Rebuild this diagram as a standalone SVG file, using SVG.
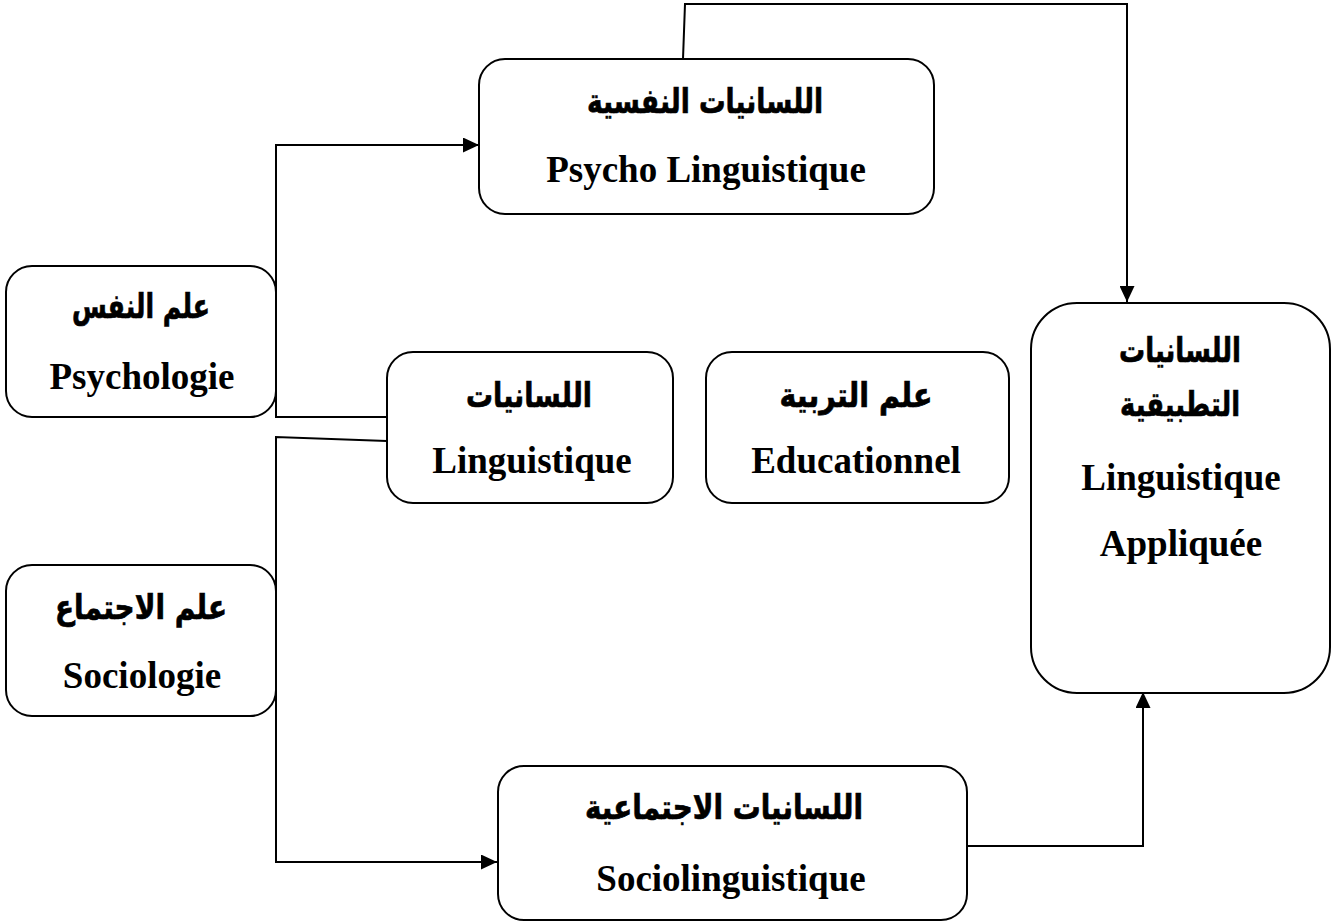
<svg xmlns="http://www.w3.org/2000/svg" width="1339" height="924" viewBox="0 0 1339 924">
<style>
.box{fill:#fff;stroke:#000;stroke-width:2}
.en{font-family:"Liberation Serif","Times New Roman",serif;font-weight:bold;font-size:37px;fill:#000;text-anchor:middle}
.ar{font-family:"DejaVu Sans",sans-serif;font-weight:bold;font-size:34px;fill:#000;stroke:#000;stroke-width:0.7;text-anchor:middle}
.con{fill:none;stroke:#000;stroke-width:2}
</style>
<defs>
<marker id="arr" markerUnits="userSpaceOnUse" markerWidth="17" markerHeight="15" refX="16" refY="7.5" orient="auto">
<path d="M0,0 L16,7.5 L0,15 z" fill="#000"/>
</marker>
</defs>
<rect width="1339" height="924" fill="#fff"/>
<g id="connectors">
<path class="con" d="M387,417 L276,417 L276,145 L479,145" marker-end="url(#arr)"/>
<path class="con" d="M387,441 L276,437 L276,862 L497,862" marker-end="url(#arr)"/>
<path class="con" d="M683,59 L685,4 L1127,4 L1127,302" marker-end="url(#arr)"/>
<path class="con" d="M967,846 L1143,846 L1143,692" marker-end="url(#arr)"/>
</g>
<g id="psycholinguistique">
<rect class="box" x="479" y="59" width="455" height="155" rx="26"/>
<text class="ar" x="705" y="113" textLength="236" lengthAdjust="spacingAndGlyphs">اللسانيات النفسية</text>
<text class="en" x="706" y="182">Psycho Linguistique</text>
</g>
<g id="psychologie">
<rect class="box" x="6" y="266" width="270" height="151" rx="26"/>
<text class="ar" x="141" y="318" textLength="138" lengthAdjust="spacingAndGlyphs">علم النفس</text>
<text class="en" x="142" y="389">Psychologie</text>
</g>
<g id="linguistique">
<rect class="box" x="387" y="352" width="286" height="151" rx="26"/>
<text class="ar" x="529" y="407" textLength="126" lengthAdjust="spacingAndGlyphs">اللسانيات</text>
<text class="en" x="532" y="473">Linguistique</text>
</g>
<g id="educationnel">
<rect class="box" x="706" y="352" width="303" height="151" rx="26"/>
<text class="ar" x="856" y="407" textLength="153" lengthAdjust="spacingAndGlyphs">علم التربية</text>
<text class="en" x="856" y="473">Educationnel</text>
</g>
<g id="sociologie">
<rect class="box" x="6" y="565" width="270" height="151" rx="26"/>
<text class="ar" x="141" y="619" textLength="172" lengthAdjust="spacingAndGlyphs">علم الاجتماع</text>
<text class="en" x="142" y="688">Sociologie</text>
</g>
<g id="sociolinguistique">
<rect class="box" x="498" y="766" width="469" height="154" rx="26"/>
<text class="ar" x="724" y="819" textLength="278" lengthAdjust="spacingAndGlyphs">اللسانيات الاجتماعية</text>
<text class="en" x="731" y="891">Sociolinguistique</text>
</g>
<g id="linguistique-appliquee">
<rect class="box" x="1031" y="303" width="299" height="390" rx="46"/>
<text class="ar" x="1180" y="362" textLength="122" lengthAdjust="spacingAndGlyphs">اللسانيات</text>
<text class="ar" x="1180" y="416" textLength="120" lengthAdjust="spacingAndGlyphs">التطبيقية</text>
<text class="en" x="1181" y="490">Linguistique</text>
<text class="en" x="1181" y="556">Appliquée</text>
</g>
</svg>
